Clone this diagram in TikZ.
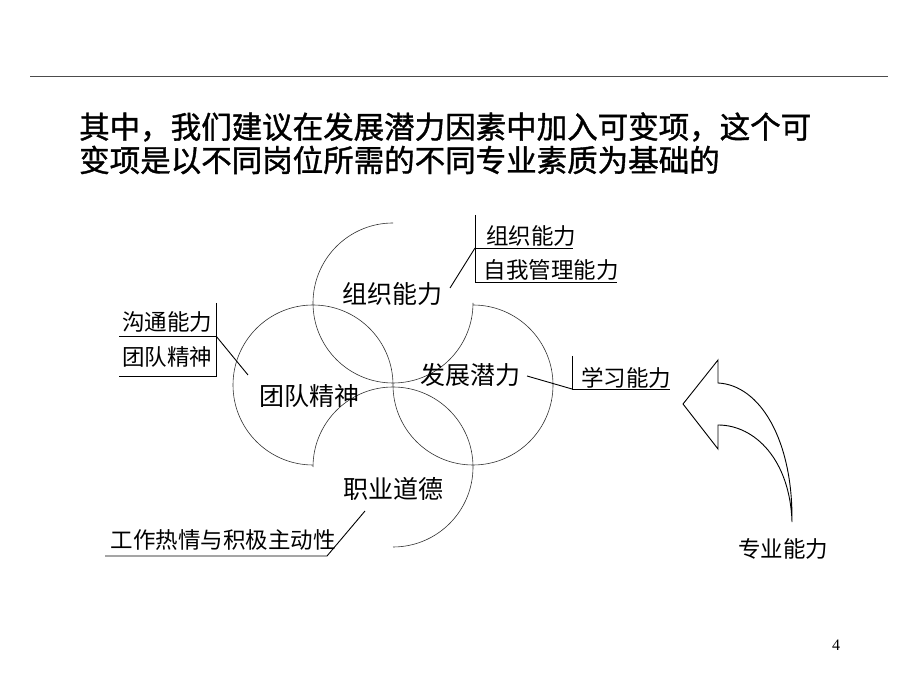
\documentclass[tikz,border=0pt]{standalone}
\usepackage{fontspec}
\setmainfont{Liberation Serif}
\newfontfamily\cjk{Noto Sans CJK SC}
\newfontfamily\cjkt[FakeBold=1.2]{Noto Sans CJK SC}
\begin{document}
\begin{tikzpicture}[x=1pt,y=1pt,
  ring/.style={line width=0.6pt,black!80},
  callout/.style={line width=0.9pt,black},
  inlabel/.style={inner sep=0pt,font=\cjk\fontsize{25}{25}\selectfont},
  outlabel/.style={inner sep=0pt,font=\cjk\fontsize{22.5}{23}\selectfont},
  titlestyle/.style={inner sep=0pt,anchor=west,font=\cjkt\fontsize{30.5}{31}\selectfont}]
\useasboundingbox (0,0) rectangle (920,690);
\fill[white] (0,0) rectangle (920,690);
% header
\draw[line width=0.8pt,black!70] (30,614) -- (888,614);
\node[titlestyle] (t1) at (79,563) {其中，我们建议在发展潜力因素中加入可变项，这个可};
\node[titlestyle] (t2) at (79,530) {变项是以不同岗位所需的不同专业素质为基础的};
% pinwheel arcs
\draw[ring] (393,467) arc[start angle=90,end angle=360,radius=80];
\draw[ring] (473,385) arc[start angle=90,end angle=-180,radius=80];
\draw[ring] (313,223) arc[start angle=180,end angle=-90,radius=80];
\draw[ring] (393,305) arc[start angle=0,end angle=270,radius=80];
% inner labels
\node[inlabel] (zz) at (392,396) {组织能力};
\node[inlabel] (fz) at (470,315) {发展潜力};
\node[inlabel] (td) at (309,294) {团队精神};
\node[inlabel] (zy) at (393,201) {职业道德};
% top-right callout
\coordinate (trj) at (475,442);
\coordinate (trt) at (475,475);
\coordinate (trb) at (475,408);
\coordinate (tre1) at (573,442);
\coordinate (tre2) at (617,408);
\coordinate (trp) at (450,402);
\draw[callout] (trt) -- (trb) -- (tre2);
\draw[callout] (trj) -- (tre1);
\draw[callout] (trj) -- (trp);
\node[outlabel] (c1) at (531,454) {组织能力};
\node[outlabel] (c2) at (551,420) {自我管理能力};
% left callout
\coordinate (lj) at (216,354);
\coordinate (lt) at (216,387);
\coordinate (lb) at (216,314);
\coordinate (le1) at (119,354);
\coordinate (le2) at (119,314);
\coordinate (lp) at (248,315);
\draw[callout] (lt) -- (lb) -- (le2);
\draw[callout] (lj) -- (le1);
\draw[callout] (lj) -- (lp);
\node[outlabel] (c3) at (167,368) {沟通能力};
\node[outlabel] (c4) at (167,333) {团队精神};
% right callout
\coordinate (rj) at (572,301);
\coordinate (rt) at (572,334);
\coordinate (re) at (670,301);
\coordinate (rp) at (527,314);
\draw[callout] (rt) -- (rj) -- (re);
\draw[callout] (rj) -- (rp);
\node[outlabel] (c5) at (626,312) {学习能力};
% bottom-left callout
\coordinate (bj) at (327,134);
\coordinate (be) at (105,134);
\coordinate (bp) at (365,179);
\draw[callout] (be) -- (bj) -- (bp);
\node[outlabel] (c6) at (223,150) {工作热情与积极主动性};
% curved block arrow
\coordinate (atip) at (683,286);
\coordinate (aub) at (718,330);
\coordinate (aui) at (718,307);
\coordinate (abot) at (792,168);
\coordinate (ali) at (718,265);
\coordinate (alb) at (718,241);
\draw[line width=0.9pt,black,line join=miter]
  (atip) -- (aub) -- (aui)
  .. controls (760,305) and (793,250) .. (abot)
  .. controls (790,230) and (755,265) .. (ali)
  -- (alb) -- cycle;
\node[outlabel] (c7) at (783,141) {专业能力};
% page number
\node[inner sep=0pt,font=\fontsize{16}{16}\selectfont] (pn) at (836,45) {4};
\end{tikzpicture}
\end{document}
